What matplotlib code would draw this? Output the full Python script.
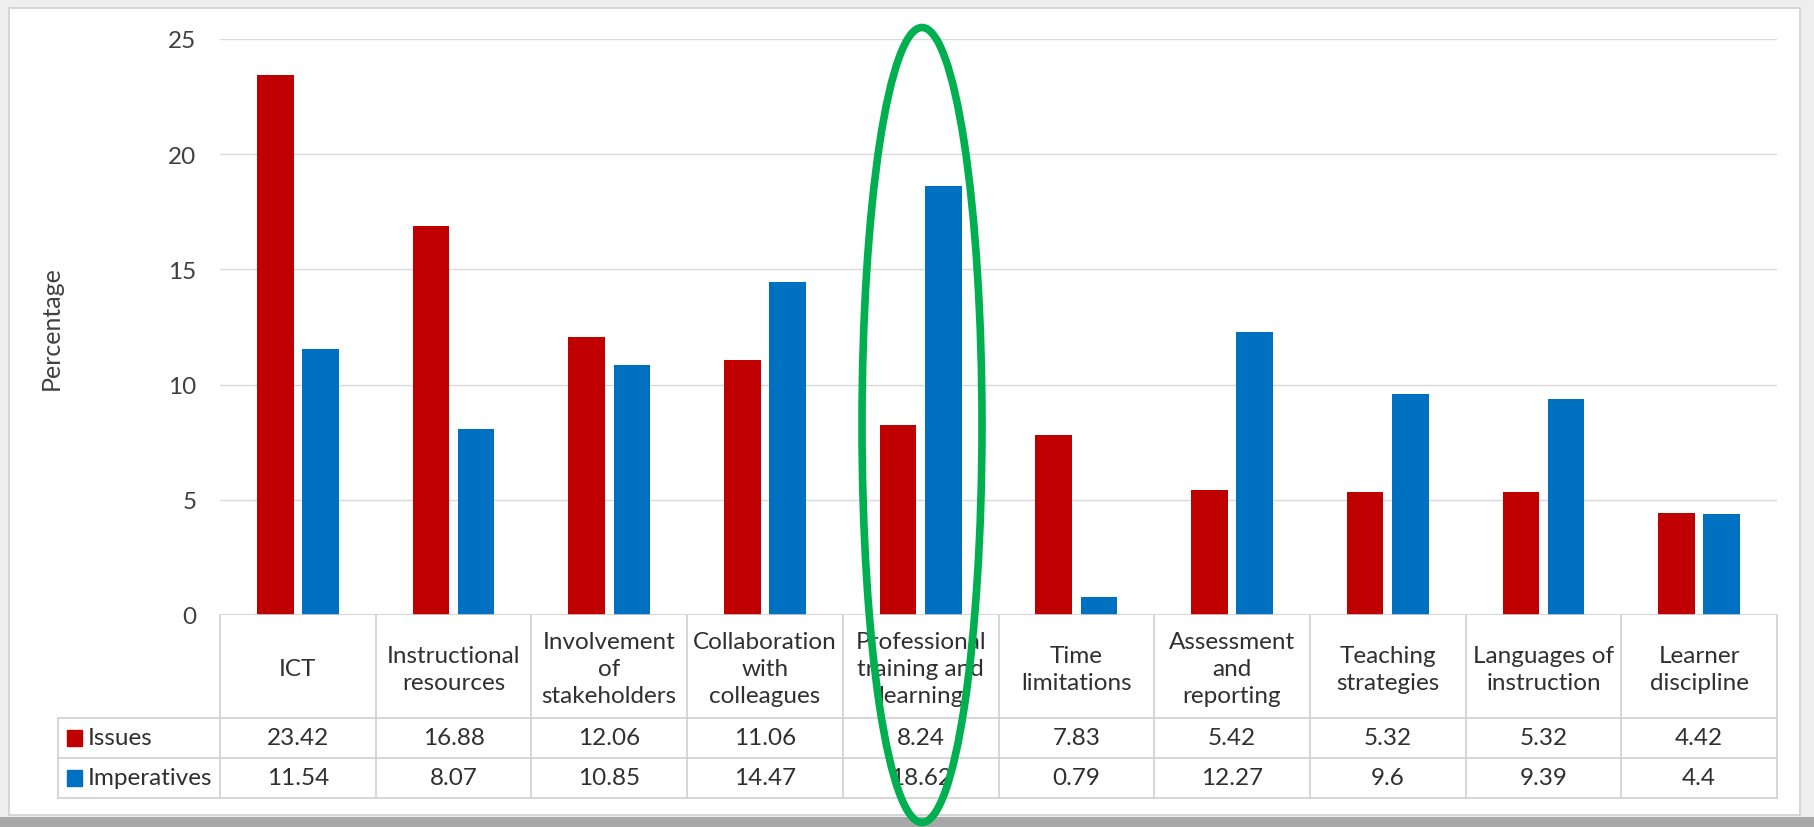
import numpy as np
import matplotlib.pyplot as plt
from matplotlib.patches import Rectangle, Ellipse

categories = ["ICT", "Instructional\nresources", "Involvement\nof\nstakeholders",
              "Collaboration\nwith\ncolleagues", "Professional\ntraining and\nlearning",
              "Time\nlimitations", "Assessment\nand\nreporting", "Teaching\nstrategies",
              "Languages of\ninstruction", "Learner\ndiscipline"]
issues = [23.42, 16.88, 12.06, 11.06, 8.24, 7.83, 5.42, 5.32, 5.32, 4.42]
imperatives = [11.54, 8.07, 10.85, 14.47, 18.62, 0.79, 12.27, 9.6, 9.39, 4.4]
series_names = ["Issues", "Imperatives"]
colors = ["#C00000", "#0070C0"]
yticks = [0, 5, 10, 15, 20, 25]

W, H = 1815, 828
FS = 17.5
plt.rcParams['font.family'] = ['Lato', 'DejaVu Sans']
fig = plt.figure(figsize=(W / 100, H / 100), dpi=100)
fig.patch.set_facecolor("#EEEEEE")

# chart area (white, light border) and bottom shadow
fig.patches.append(Rectangle((9 / W, 12 / H), 1791 / W, 807 / H, transform=fig.transFigure,
                             facecolor="white", edgecolor="#D0D0D0", lw=1.2, zorder=-2))
fig.patches.append(Rectangle((0, 0), 1, 10 / H, transform=fig.transFigure,
                             facecolor="#A8A8A8", edgecolor="none", zorder=-2))

left, right, top, bottom = 220, 1777, 40, 616
ax = fig.add_axes([left / W, 1 - bottom / H, (right - left) / W, (bottom - top) / H])
ax.set_facecolor("none")
ax.set_zorder(1)

x = np.arange(len(categories))
bw = 0.235
ax.bar(x - 0.145, issues, bw, color=colors[0], zorder=3)
ax.bar(x + 0.145, imperatives, bw, color=colors[1], zorder=3)

ax.set_xlim(-0.5, len(categories) - 0.5)
ax.set_ylim(0, 25)
ax.set_yticks(yticks)
ax.tick_params(axis='y', length=0, pad=17, labelsize=FS, labelcolor="#404040")
ax.set_xticks([])
ax.grid(axis='y', color="#D9D9D9", lw=1, zorder=0)
for s in ax.spines.values():
    s.set_visible(False)
ax.axhline(0, color="#D0D0D0", lw=1.2, zorder=4)
ax.set_ylabel("Percentage", fontsize=FS + 0.5, color="#404040", labelpad=0)
ax.yaxis.set_label_coords((63 - left) / (right - left), 0.5)

# data table below the axes
def yfrac(py):
    return (bottom - py) / (bottom - top)

trans = ax.get_xaxis_transform()
ph = (right - left) / len(categories)
xl = -0.5 - (left - 58) / ph
y1, y2, y3 = yfrac(719), yfrac(759), yfrac(799)
lc = "#D0D0D0"
for yy in [y1, y2, y3]:
    ax.plot([xl, len(categories) - 0.5], [yy, yy], color=lc, lw=1.2, transform=trans, clip_on=False)
for b in np.arange(len(categories) + 1) - 0.5:
    ax.plot([b, b], [0, y3], color=lc, lw=1.2, transform=trans, clip_on=False)
ax.plot([xl, xl], [y1, y3], color=lc, lw=1.2, transform=trans, clip_on=False)

for i, c in enumerate(categories):
    ax.text(i, (0 + y1) / 2 - 0.004, c, ha='center', va='center', fontsize=FS, color="#303030",
            linespacing=1.35, transform=trans, clip_on=False)
    ax.text(i, (y1 + y2) / 2, f"{issues[i]:g}", ha='center', va='center', fontsize=FS,
            color="#303030", transform=trans, clip_on=False)
    ax.text(i, (y2 + y3) / 2, f"{imperatives[i]:g}", ha='center', va='center', fontsize=FS,
            color="#303030", transform=trans, clip_on=False)

mh = 16 / (bottom - top)
for j, (name, yy) in enumerate(zip(series_names, [(y1 + y2) / 2, (y2 + y3) / 2])):
    mx = xl + 9 / ph
    ax.add_patch(Rectangle((mx, yy - mh / 2), 15 / ph, mh, color=colors[j],
                           transform=trans, clip_on=False))
    ax.text(mx + 21 / ph, yy, name, ha='left', va='center', fontsize=FS, color="#303030",
            transform=trans, clip_on=False)

# green highlight ellipse
fig.patches.append(Ellipse((922 / W, 402 / H), 120 / W, 795 / H, transform=fig.transFigure,
                           fill=False, edgecolor="#00B050", lw=5.5, zorder=10))

fig.savefig("out.png", dpi=100, facecolor=fig.get_facecolor())
